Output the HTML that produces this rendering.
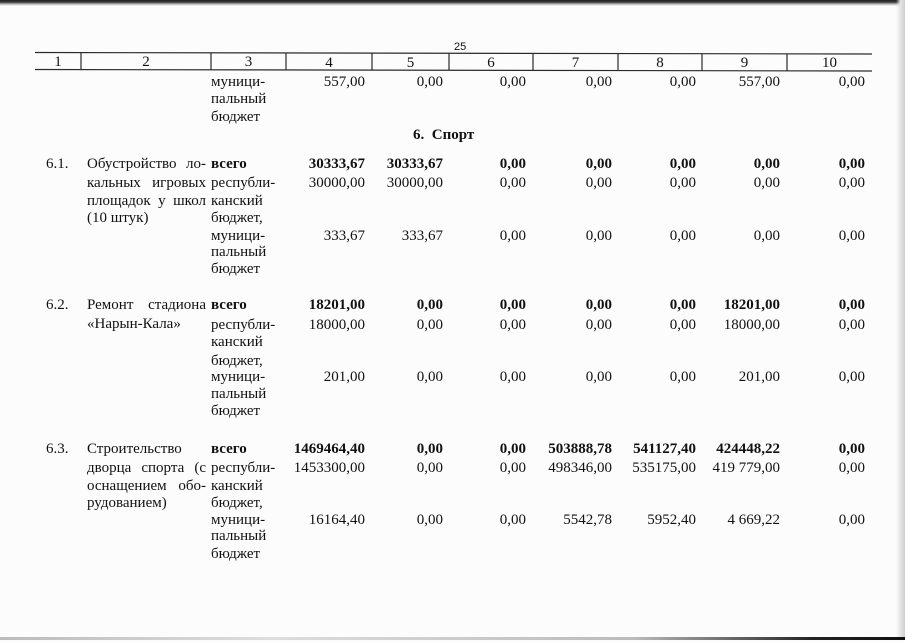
<!DOCTYPE html>
<html><head><meta charset="utf-8">
<style>
html,body{margin:0;padding:0;}
body{width:905px;height:640px;position:relative;overflow:hidden;background:#fcfcfc;color:#111;font-family:"Liberation Serif","Noto Serif CJK SC",serif;}
.w{position:absolute;left:0;top:2.5px;width:905px;height:640px;}
.t{position:absolute;font-size:15px;line-height:17px;white-space:nowrap;}
.n{position:absolute;font-size:15px;line-height:17px;white-space:nowrap;width:120px;text-align:right;}
.b{font-weight:bold;}
.j{position:absolute;font-size:15px;line-height:17px;white-space:nowrap;left:87px;width:119px;text-align:justify;text-align-last:justify;}
.h{position:absolute;font-size:15px;line-height:17px;text-align:center;}
</style></head><body>

<!-- scan edges -->
<div style="position:absolute;left:0;top:0;width:905px;height:6px;background:linear-gradient(to bottom,#1e1e1e 0,#3a3a3a 35%,#bdbdbd 70%,rgba(252,252,252,0) 100%);"></div>
<div style="position:absolute;right:0;top:0;width:9px;height:640px;background:linear-gradient(to right,rgba(252,252,252,0) 0,#e4e4e4 50%,#cfcfcf 100%);"></div>
<div style="position:absolute;left:0;bottom:0;width:905px;height:3px;background:linear-gradient(to right,#bbb 0,#ddd 30%,#bbb 70%,#222 90%,#111 100%);"></div>

<!-- header lines -->
<svg style="position:absolute;left:0;top:0" width="905" height="640">
<g stroke="#2a2a2a" stroke-width="1.2" fill="none">
<line x1="35" y1="52.5" x2="872" y2="54"/>
<line x1="35" y1="69.5" x2="872" y2="71"/>
<line x1="81" y1="52.6" x2="81" y2="69.6"/>
<line x1="211" y1="52.8" x2="211" y2="69.8"/>
<line x1="286" y1="53" x2="286" y2="70"/>
<line x1="372" y1="53.1" x2="372" y2="70.1"/>
<line x1="449" y1="53.3" x2="449" y2="70.3"/>
<line x1="533" y1="53.4" x2="533" y2="70.4"/>
<line x1="618" y1="53.6" x2="618" y2="70.6"/>
<line x1="702" y1="53.7" x2="702" y2="70.7"/>
<line x1="787" y1="53.8" x2="787" y2="70.8"/>
</g></svg>

<div class="w">
<!-- page number -->
<div style="position:absolute;left:454px;top:38.5px;font-family:'Liberation Sans',sans-serif;font-size:11px;line-height:13px;">25</div>

<div class="h" style="left:35px;width:46px;top:51.5px">1</div>
<div class="h" style="left:81px;width:130px;top:51.7px">2</div>
<div class="h" style="left:211px;width:75px;top:51.9px">3</div>
<div class="h" style="left:286px;width:86px;top:52px">4</div>
<div class="h" style="left:372px;width:77px;top:52.2px">5</div>
<div class="h" style="left:449px;width:84px;top:52.3px">6</div>
<div class="h" style="left:533px;width:85px;top:52.5px">7</div>
<div class="h" style="left:618px;width:84px;top:52.6px">8</div>
<div class="h" style="left:702px;width:85px;top:52.8px">9</div>
<div class="h" style="left:787px;width:85px;top:52.9px">10</div>

<!-- top continuation row -->
<div class="t" style="left:211px;top:71px">муници-</div>
<div class="t" style="left:211px;top:88.5px">пальный</div>
<div class="t" style="left:211px;top:106px">бюджет</div>
<div class="n" style="left:245px;top:71px">557,00</div>
<div class="n" style="left:323px;top:71px">0,00</div>
<div class="n" style="left:406px;top:71px">0,00</div>
<div class="n" style="left:492px;top:71px">0,00</div>
<div class="n" style="left:576px;top:71px">0,00</div>
<div class="n" style="left:660px;top:71px">557,00</div>
<div class="n" style="left:745px;top:71px">0,00</div>

<!-- section title -->
<div class="t b" style="left:413px;top:124.5px">6.&nbsp; Спорт</div>

<!-- 6.1 -->
<div class="t" style="left:46px;top:153.6px">6.1.</div>
<div class="j" style="top:153.6px">Обустройство ло-</div>
<div class="j" style="top:172.6px">кальных игровых</div>
<div class="j" style="top:190px">площадок у школ</div>
<div class="t" style="left:87px;top:207.6px">(10 штук)</div>
<div class="t b" style="left:211px;top:153.6px">всего</div>
<div class="t" style="left:211px;top:172.6px">республи-</div>
<div class="t" style="left:211px;top:190px">канский</div>
<div class="t" style="left:211px;top:207.6px">бюджет,</div>
<div class="t" style="left:211px;top:225px">муници-</div>
<div class="t" style="left:211px;top:241.6px">пальный</div>
<div class="t" style="left:211px;top:258.6px">бюджет</div>

<div class="n b" style="left:245px;top:153.6px">30333,67</div>
<div class="n b" style="left:323px;top:153.6px">30333,67</div>
<div class="n b" style="left:406px;top:153.6px">0,00</div>
<div class="n b" style="left:492px;top:153.6px">0,00</div>
<div class="n b" style="left:576px;top:153.6px">0,00</div>
<div class="n b" style="left:660px;top:153.6px">0,00</div>
<div class="n b" style="left:745px;top:153.6px">0,00</div>

<div class="n" style="left:245px;top:172.6px">30000,00</div>
<div class="n" style="left:323px;top:172.6px">30000,00</div>
<div class="n" style="left:406px;top:172.6px">0,00</div>
<div class="n" style="left:492px;top:172.6px">0,00</div>
<div class="n" style="left:576px;top:172.6px">0,00</div>
<div class="n" style="left:660px;top:172.6px">0,00</div>
<div class="n" style="left:745px;top:172.6px">0,00</div>

<div class="n" style="left:245px;top:225px">333,67</div>
<div class="n" style="left:323px;top:225px">333,67</div>
<div class="n" style="left:406px;top:225px">0,00</div>
<div class="n" style="left:492px;top:225px">0,00</div>
<div class="n" style="left:576px;top:225px">0,00</div>
<div class="n" style="left:660px;top:225px">0,00</div>
<div class="n" style="left:745px;top:225px">0,00</div>

<!-- 6.2 -->
<div class="t" style="left:46px;top:294px">6.2.</div>
<div class="j" style="top:294px">Ремонт стадиона</div>
<div class="t" style="left:87px;top:313.2px">«Нарын-Кала»</div>
<div class="t b" style="left:211px;top:294px">всего</div>
<div class="t" style="left:211px;top:314.2px">республи-</div>
<div class="t" style="left:211px;top:331.6px">канский</div>
<div class="t" style="left:211px;top:350px">бюджет,</div>
<div class="t" style="left:211px;top:366.6px">муници-</div>
<div class="t" style="left:211px;top:383px">пальный</div>
<div class="t" style="left:211px;top:400.6px">бюджет</div>

<div class="n b" style="left:245px;top:294px">18201,00</div>
<div class="n b" style="left:323px;top:294px">0,00</div>
<div class="n b" style="left:406px;top:294px">0,00</div>
<div class="n b" style="left:492px;top:294px">0,00</div>
<div class="n b" style="left:576px;top:294px">0,00</div>
<div class="n b" style="left:660px;top:294px">18201,00</div>
<div class="n b" style="left:745px;top:294px">0,00</div>

<div class="n" style="left:245px;top:314.2px">18000,00</div>
<div class="n" style="left:323px;top:314.2px">0,00</div>
<div class="n" style="left:406px;top:314.2px">0,00</div>
<div class="n" style="left:492px;top:314.2px">0,00</div>
<div class="n" style="left:576px;top:314.2px">0,00</div>
<div class="n" style="left:660px;top:314.2px">18000,00</div>
<div class="n" style="left:745px;top:314.2px">0,00</div>

<div class="n" style="left:245px;top:366.6px">201,00</div>
<div class="n" style="left:323px;top:366.6px">0,00</div>
<div class="n" style="left:406px;top:366.6px">0,00</div>
<div class="n" style="left:492px;top:366.6px">0,00</div>
<div class="n" style="left:576px;top:366.6px">0,00</div>
<div class="n" style="left:660px;top:366.6px">201,00</div>
<div class="n" style="left:745px;top:366.6px">0,00</div>

<!-- 6.3 -->
<div class="t" style="left:46px;top:438.2px">6.3.</div>
<div class="t" style="left:87px;top:438.2px">Строительство</div>
<div class="j" style="top:457.2px">дворца спорта (с</div>
<div class="j" style="top:475.6px">оснащением обо-</div>
<div class="t" style="left:87px;top:492.6px">рудованием)</div>
<div class="t b" style="left:211px;top:438.2px">всего</div>
<div class="t" style="left:211px;top:457.2px">республи-</div>
<div class="t" style="left:211px;top:475.6px">канский</div>
<div class="t" style="left:211px;top:492.6px">бюджет,</div>
<div class="t" style="left:211px;top:509px">муници-</div>
<div class="t" style="left:211px;top:525px">пальный</div>
<div class="t" style="left:211px;top:543.2px">бюджет</div>

<div class="n b" style="left:245px;top:438.2px">1469464,40</div>
<div class="n b" style="left:323px;top:438.2px">0,00</div>
<div class="n b" style="left:406px;top:438.2px">0,00</div>
<div class="n b" style="left:492px;top:438.2px">503888,78</div>
<div class="n b" style="left:576px;top:438.2px">541127,40</div>
<div class="n b" style="left:660px;top:438.2px">424448,22</div>
<div class="n b" style="left:745px;top:438.2px">0,00</div>

<div class="n" style="left:245px;top:457.2px">1453300,00</div>
<div class="n" style="left:323px;top:457.2px">0,00</div>
<div class="n" style="left:406px;top:457.2px">0,00</div>
<div class="n" style="left:492px;top:457.2px">498346,00</div>
<div class="n" style="left:576px;top:457.2px">535175,00</div>
<div class="n" style="left:660px;top:457.2px">419 779,00</div>
<div class="n" style="left:745px;top:457.2px">0,00</div>

<div class="n" style="left:245px;top:509px">16164,40</div>
<div class="n" style="left:323px;top:509px">0,00</div>
<div class="n" style="left:406px;top:509px">0,00</div>
<div class="n" style="left:492px;top:509px">5542,78</div>
<div class="n" style="left:576px;top:509px">5952,40</div>
<div class="n" style="left:660px;top:509px">4 669,22</div>
<div class="n" style="left:745px;top:509px">0,00</div>
</div>

</body></html>
